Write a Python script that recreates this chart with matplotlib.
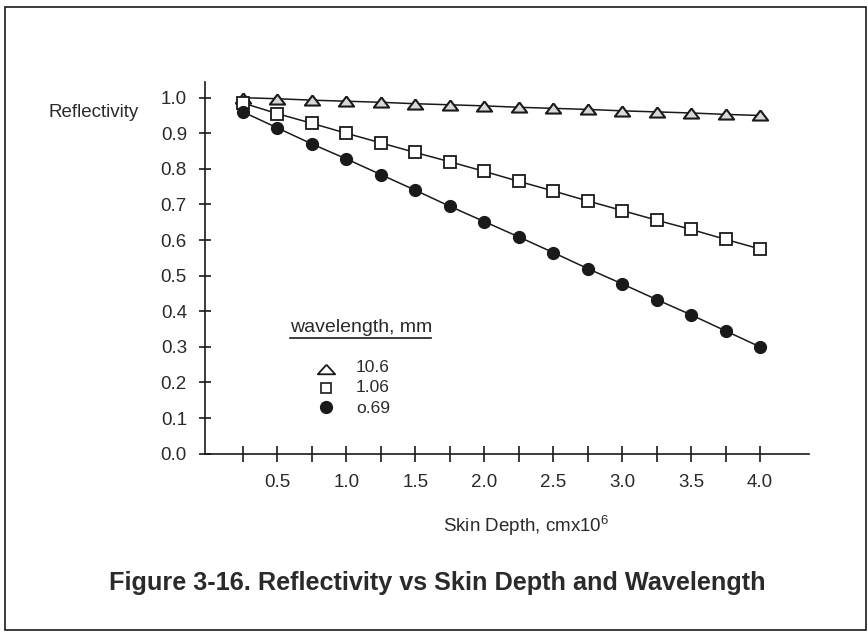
import matplotlib
matplotlib.use("Agg")
import matplotlib.pyplot as plt
from matplotlib.lines import Line2D
from matplotlib.patches import Rectangle

plt.rcParams['font.family'] = ['Liberation Sans', 'DejaVu Sans']
plt.rcParams['mathtext.fontset'] = 'custom'
plt.rcParams['mathtext.rm'] = 'Liberation Sans'
plt.rcParams['mathtext.default'] = 'regular'

skin_depth = [0.25, 0.5, 0.75, 1.0, 1.25, 1.5, 1.75, 2.0,
              2.25, 2.5, 2.75, 3.0, 3.25, 3.5, 3.75, 4.0]
refl_106 = [1.0, 0.997, 0.993, 0.99, 0.987, 0.983, 0.98, 0.977,
            0.973, 0.97, 0.967, 0.963, 0.96, 0.957, 0.953, 0.95]
refl_1_06 = [0.985, 0.955, 0.928, 0.90, 0.873, 0.846, 0.82, 0.793,
             0.765, 0.738, 0.71, 0.683, 0.656, 0.63, 0.602, 0.575]
refl_069 = [0.96, 0.915, 0.87, 0.828, 0.784, 0.74, 0.695, 0.652,
            0.609, 0.565, 0.52, 0.477, 0.433, 0.39, 0.345, 0.30]
legend_labels = ['10.6', '1.06', 'o.69']
x_ticks = skin_depth
x_ticklabels = ['', '0.5', '', '1.0', '', '1.5', '', '2.0',
                '', '2.5', '', '3.0', '', '3.5', '', '4.0']
y_ticks = [0.0, 0.1, 0.2, 0.3, 0.4, 0.5, 0.6, 0.7, 0.8, 0.9, 1.0]

W, H = 868, 632
fig = plt.figure(figsize=(W / 100, H / 100), dpi=100)
ax = fig.add_axes([205 / W, (H - 453.7) / H, 604 / W, (453.7 - 82) / H])

ink = '#1a1a1a'
txt = '#2a2a2a'
flat_tri = [(0, 0.66), (-1, -0.66), (1, -0.66), (0, 0.66)]
wide_tri = [(0, 0.55), (-1, -0.55), (1, -0.55), (0, 0.55)]

ax.plot(skin_depth, refl_106, color=ink, lw=1.1, marker=flat_tri, ms=11,
        mfc='#d8d8d8', mec=ink, mew=1.5, clip_on=False, zorder=3)
ax.plot(skin_depth, refl_1_06, color=ink, lw=1.1, marker='s', ms=8,
        mfc='white', mec=ink, mew=1.3, clip_on=False, zorder=3)
ax.plot(skin_depth, refl_069, color=ink, lw=1.1, marker='o', ms=8.5,
        mfc=ink, mec=ink, clip_on=False, zorder=3)

ax.set_xlim(-0.025, 4.355)
ax.set_ylim(0.0, 1.044)
ax.spines['top'].set_visible(False)
ax.spines['right'].set_visible(False)
for s in ('left', 'bottom'):
    ax.spines[s].set_color(ink)
    ax.spines[s].set_linewidth(1.2)

ax.set_xticks(x_ticks)
ax.set_xticklabels(x_ticklabels)
ax.set_yticks(y_ticks)
ax.set_yticklabels([f'{v:.1f}' for v in y_ticks])
ax.tick_params(axis='x', direction='inout', length=11, width=1.2,
               color=ink, labelsize=13.5, labelcolor=txt, pad=9)
ax.tick_params(axis='y', direction='inout', length=9, width=1.2,
               color=ink, labelsize=13.5, labelcolor=txt, pad=8.5)

# legend (manual)
mk = dict(transform=ax.transAxes, clip_on=False, ls='none')
ax.plot([0.2003], [0.2292], marker=wide_tri, ms=12.5, mfc='white', mec=ink, mew=1.3, **mk)
ax.plot([0.2003], [0.1781], marker='s', ms=7.5, mfc='white', mec=ink, mew=1.2, **mk)
ax.plot([0.2003], [0.1243], marker='o', ms=8.5, mfc=ink, mec=ink, **mk)
for yy, lab in zip([0.2198, 0.1647, 0.1095], legend_labels):
    ax.text(0.25, yy, lab, transform=ax.transAxes, fontsize=12.5,
            color=txt, va='baseline', ha='left')
ax.text(0.1407, 0.327, 'wavelength, mm', transform=ax.transAxes,
        fontsize=14, color=txt, va='baseline', ha='left')
ax.add_line(Line2D([0.1407, 0.375], [0.311, 0.311], transform=ax.transAxes,
                   color=ink, lw=1.2, clip_on=False))

fig.text(48 / W, (H - 117) / H, 'Reflectivity', fontsize=13.5, color=txt,
         va='baseline', ha='left')
fig.text(443 / W, (H - 532) / H, 'Skin Depth, cmx10$^{6}$', fontsize=13.5,
         color=txt, va='baseline', ha='left')
fig.text(437.5 / W, (H - 590) / H,
         'Figure 3-16. Reflectivity vs Skin Depth and Wavelength',
         fontsize=18.2, fontweight='bold', color=txt, va='baseline', ha='center')

fig.add_artist(Rectangle((4.5 / W, 2 / H), (866 - 4.5) / W, (H - 7 - 2) / H,
                         transform=fig.transFigure, fill=False,
                         edgecolor=ink, lw=1.2))

fig.savefig('out.png', dpi=100)
